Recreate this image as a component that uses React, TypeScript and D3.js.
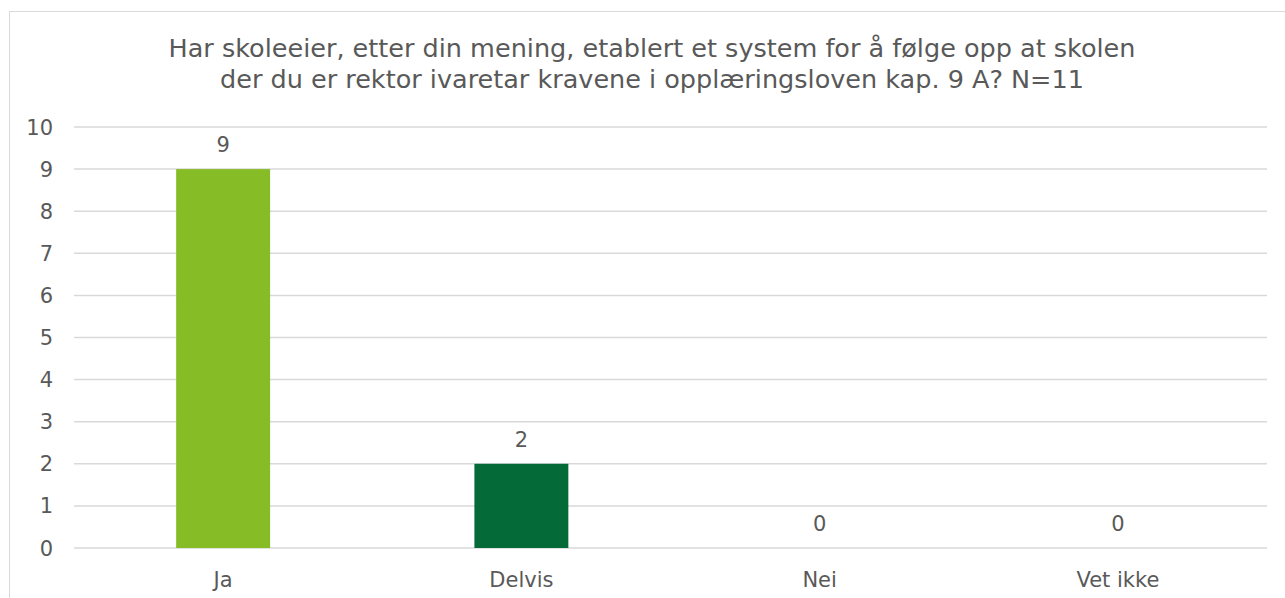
import React from "react";
import * as d3 from "d3";

const categories = ["Ja", "Delvis", "Nei", "Vet ikke"];
const values = [9, 2, 0, 0];
const barColors = ["#86BC25", "#046A38", "#86BC25", "#046A38"];
const yTicks = [0, 1, 2, 3, 4, 5, 6, 7, 8, 9, 10];
const titleLines = [
  "Har skoleeier, etter din mening, etablert et system for å følge opp at skolen",
  "der du er rektor ivaretar kravene i opplæringsloven kap. 9 A? N=11",
];

const W = 1285;
const H = 598;
const margin = { left: 74, right: 1267, top: 127, bottom: 548 };
const font = "'DejaVu Sans', Verdana, sans-serif";
const textColor = "#595959";

export default function App() {
  const x = d3
    .scaleBand<string>()
    .domain(categories)
    .range([margin.left, margin.right])
    .paddingInner(0.685)
    .paddingOuter(0.3425);
  const y = d3.scaleLinear().domain([0, 10]).range([margin.bottom, margin.top]);

  return (
    <div style={{ position: "absolute", left: 0, top: 0 }}>
      <svg width={W} height={H} style={{ display: "block" }}>
        <rect x={0} y={0} width={W} height={H} fill="#fff" />
        <rect x={9.5} y={11.5} width={W} height={H} fill="none" stroke="#d9d9d9" strokeWidth={1} />
        {titleLines.map((t, i) => (
          <text
            key={i}
            x={652}
            y={57 + i * 31}
            textAnchor="middle"
            fontFamily={font}
            fontSize={25.5}
            fill={textColor}
          >
            {t}
          </text>
        ))}
        {yTicks.map((t) => (
          <g key={t}>
            <line
              x1={margin.left}
              x2={margin.right}
              y1={y(t)}
              y2={y(t)}
              stroke="#d9d9d9"
              strokeWidth={1.5}
            />
            <text
              x={53}
              y={y(t)}
              dy="0.36em"
              textAnchor="end"
              fontFamily={font}
              fontSize={21}
              fill={textColor}
            >
              {t}
            </text>
          </g>
        ))}
        {categories.map((c, i) => (
          <g key={c}>
            {values[i] > 0 && (
              <rect
                x={x(c)!}
                y={y(values[i])}
                width={x.bandwidth()}
                height={y(0) - y(values[i])}
                fill={barColors[i]}
              />
            )}
            <text
              x={x(c)! + x.bandwidth() / 2}
              y={y(values[i]) - 17}
              textAnchor="middle"
              fontFamily={font}
              fontSize={21}
              fill={textColor}
            >
              {values[i]}
            </text>
            <text
              x={x(c)! + x.bandwidth() / 2}
              y={587}
              textAnchor="middle"
              fontFamily={font}
              fontSize={21}
              fill={textColor}
            >
              {c}
            </text>
          </g>
        ))}
      </svg>
    </div>
  );
}
